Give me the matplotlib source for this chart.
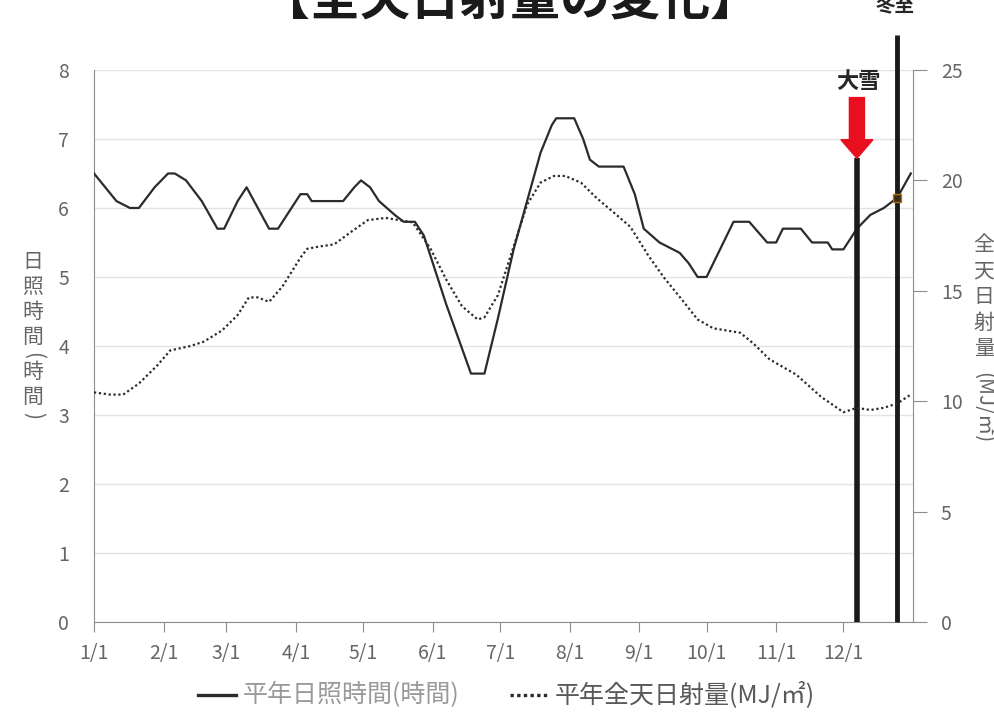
import matplotlib
matplotlib.use("Agg")
import matplotlib.pyplot as plt
from matplotlib.patches import FancyArrow

plt.rcParams["font.family"] = ["Noto Sans CJK JP", "DejaVu Sans"]

# day of year (0 = Jan 1) and normal sunshine hours
sun_days = [0, 5, 10, 16, 20, 27, 33, 36, 41, 48, 55, 58, 64, 68, 73, 78, 82, 88, 92,
            95, 97, 111, 116, 119, 123, 127, 134, 138, 143, 147, 157, 168, 174, 180,
            187, 193, 199, 204, 206, 214, 218, 221, 225, 236, 241, 245, 252, 261, 265,
            269, 273, 279, 285, 292, 296, 300, 304, 307, 315, 320, 327, 329, 334, 340,
            346, 352, 358, 364]
sun_hours = [6.5, 6.3, 6.1, 6.0, 6.0, 6.3, 6.5, 6.5, 6.4, 6.1, 5.7, 5.7, 6.1, 6.3, 6.0,
             5.7, 5.7, 6.0, 6.2, 6.2, 6.1, 6.1, 6.3, 6.4, 6.3, 6.1, 5.9, 5.8, 5.8, 5.6,
             4.6, 3.6, 3.6, 4.4, 5.4, 6.1, 6.8, 7.2, 7.3, 7.3, 7.0, 6.7, 6.6, 6.6, 6.2,
             5.7, 5.5, 5.35, 5.2, 5.0, 5.0, 5.4, 5.8, 5.8, 5.65, 5.5, 5.5, 5.7, 5.7, 5.5,
             5.5, 5.4, 5.4, 5.7, 5.9, 6.0, 6.15, 6.5]

# day of year and normal global solar radiation (MJ/m2)
rad_days = [0, 7, 13, 20, 28, 34, 43, 49, 57, 64, 69, 73, 78, 84, 92, 95, 100, 107, 115,
            122, 130, 142, 150, 157, 164, 171, 174, 180, 187, 193, 199, 205, 210, 217,
            224, 231, 239, 247, 254, 262, 269, 276, 288, 294, 301, 313, 324, 334, 340,
            346, 352, 358, 364]
rad_values = [10.4, 10.3, 10.3, 10.8, 11.6, 12.3, 12.5, 12.7, 13.2, 13.9, 14.7, 14.7,
              14.5, 15.2, 16.5, 16.9, 17.0, 17.1, 17.7, 18.2, 18.3, 18.1, 16.9, 15.5,
              14.3, 13.7, 13.8, 14.8, 17.0, 18.9, 19.9, 20.2, 20.2, 19.9, 19.2, 18.6,
              17.9, 16.6, 15.6, 14.6, 13.7, 13.3, 13.1, 12.6, 11.9, 11.2, 10.2, 9.5,
              9.7, 9.6, 9.7, 9.9, 10.3]

month_starts = [0, 31, 59, 90, 120, 151, 181, 212, 243, 273, 304, 334]
month_labels = ["1/1", "2/1", "3/1", "4/1", "5/1", "6/1", "7/1", "8/1", "9/1",
                "10/1", "11/1", "12/1"]

taisetsu_day = 340
touji_day = 358
touji_hours = 6.15

grey = "#666666"

fig = plt.figure(figsize=(9.95, 7.17), dpi=100)
ax = fig.add_axes([0.0945, 0.1325, 0.8231, 0.7699])
ax2 = ax.twinx()

ax.plot(sun_days, sun_hours, color="#2b2b2b", lw=1.6, zorder=3)
ax2.plot(rad_days, rad_values, color="#2b2b2b", lw=1.6, ls=(0, (1, 1.2)), zorder=3)

ax.set_xlim(0, 365)
ax.set_ylim(0, 8)
ax2.set_ylim(0, 25)
ax.set_yticks(range(0, 9))
ax2.set_yticks(range(0, 26, 5))
ax.set_xticks(month_starts)
ax.set_xticklabels(month_labels)
ax.grid(axis="y", color="#e3e3e3", lw=1)
ax.set_axisbelow(True)

ax.spines["top"].set_visible(False)
ax2.spines["top"].set_visible(False)
ax.spines["right"].set_visible(False)
ax2.spines["left"].set_visible(False)
ax2.spines["bottom"].set_visible(False)
ax.spines["left"].set_color("#8c8c8c")
ax.spines["bottom"].set_color("#8c8c8c")
ax2.spines["right"].set_color("#8c8c8c")

ax.tick_params(axis="y", length=0, labelsize=14, labelcolor=grey, pad=18)
ax.tick_params(axis="x", direction="out", length=7, color="#8c8c8c",
               labelsize=14, labelcolor=grey, pad=8)
ax2.tick_params(axis="y", direction="out", length=10, color="#8c8c8c",
                labelsize=14, labelcolor=grey, pad=10)

# marker lines for 大雪 and 冬至
ax.plot([taisetsu_day, taisetsu_day], [0, 6.72], color="#1a1a1a", lw=4,
        solid_capstyle="butt", zorder=5, clip_on=False)
ax.plot([touji_day, touji_day], [0, 8.5], color="#1a1a1a", lw=3.5,
        solid_capstyle="butt", zorder=5, clip_on=False)
ax.plot([touji_day], [touji_hours], marker="s", ms=6, color="#3a2a10",
        mec="#b07020", zorder=6)

ax.add_patch(FancyArrow(taisetsu_day, 7.6, 0, -0.88, width=6.7, head_width=14.3,
                        head_length=0.27, length_includes_head=True,
                        color="#e8101e", zorder=6, clip_on=False))
ax.text(taisetsu_day + 0.8, 7.83, "大雪", ha="center", va="center",
        fontsize=16, fontweight="bold", color="#262626")
fig.text(895 / 995, 1 - 7 / 717, "冬至", ha="center", va="center",
         fontsize=14, fontweight="bold", color="#262626")

fig.text(510 / 995, 1.0, "【全天日射量の変化】", ha="center", va="center",
         fontsize=36, fontweight="bold", color="#1a1a1a")

# vertical axis titles, stacked one character per line
left_chars = ["日", "照", "時", "間", "(", "時", "間", ")"]
left_y = [262, 287, 312, 337, 355, 372, 397, 415]
for ch, y in zip(left_chars, left_y):
    rot = 270 if ch in "()" else 0
    fig.text(33 / 995, 1 - y / 717, ch, ha="center", va="center",
             fontsize=15, color=grey, rotation=rot)

right_chars = ["全", "天", "日", "射", "量"]
for i, ch in enumerate(right_chars):
    fig.text(984 / 995, 1 - (245 + i * 26) / 717, ch, ha="center", va="center",
             fontsize=15, color=grey)
fig.text(984 / 995, 1 - 408 / 717, "(MJ/㎡)", ha="center", va="center",
         fontsize=15, color=grey, rotation=270)

# legend
ly = 1 - 695 / 717
fig.add_artist(plt.Line2D([198 / 995, 236 / 995], [ly, ly], color="#2b2b2b", lw=2.4,
                          transform=fig.transFigure))
fig.text(243 / 995, ly, "平年日照時間(時間)", ha="left", va="center",
         fontsize=18, color="#9a9a9a")
fig.add_artist(plt.Line2D([510 / 995, 548 / 995], [ly, ly], color="#2b2b2b", lw=2.4,
                          ls=(0, (1, 1)), transform=fig.transFigure))
fig.text(555 / 995, ly, "平年全天日射量(MJ/㎡)", ha="left", va="center",
         fontsize=18, color="#595959")

fig.savefig("out.png", dpi=100)
